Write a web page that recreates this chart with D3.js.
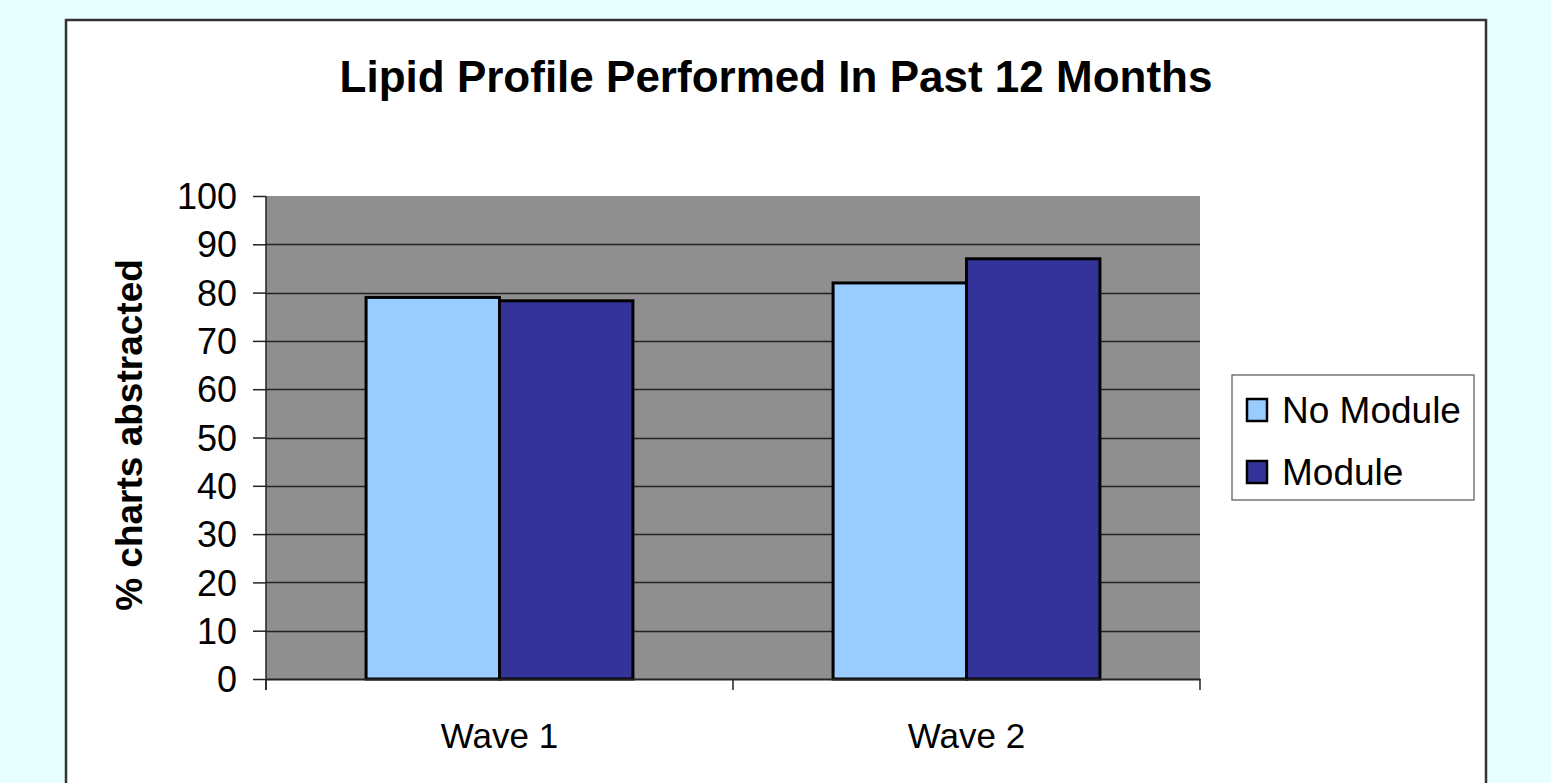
<!DOCTYPE html>
<html>
<head>
<meta charset="utf-8">
<script src="https://cdn.jsdelivr.net/npm/d3@7"></script>
<style>
  html, body { margin: 0; padding: 0; background: #e8ffff; }
  svg { display: block; font-family: Arial, "Liberation Sans", sans-serif; }
</style>
</head>
<body>
<div id="chart"></div>
<script>
// chart data
var categories = ["Wave 1", "Wave 2"];
var seriesNames = ["No Module", "Module"];
var noModule = [79, 82];
var module = [78.3, 87];
var yTicks = [0, 10, 20, 30, 40, 50, 60, 70, 80, 90, 100];
var colors = ["#99ccff", "#333399"];

var W = 1551, H = 783;
var plot = {left: 266, right: 1200, top: 196, bottom: 679};

var svg = d3.select("#chart").append("svg")
    .attr("width", W)
    .attr("height", H);

// white chart box (no bottom edge visible)
svg.append("rect")
    .attr("x", 66).attr("y", 20)
    .attr("width", 1420).attr("height", H)
    .attr("fill", "#fff")
    .attr("stroke", "#333")
    .attr("stroke-width", 2.5);

svg.append("text")
    .attr("x", 776).attr("y", 92)
    .attr("text-anchor", "middle")
    .attr("font-weight", "bold")
    .attr("font-size", 44)
    .text("Lipid Profile Performed In Past 12 Months");

var x0 = d3.scaleBand()
    .domain(categories)
    .range([plot.left, plot.right]);

// gap width 150% like the original
var x1 = d3.scaleBand()
    .domain(seriesNames)
    .range([x0.bandwidth() * 0.75 / 3.5, x0.bandwidth() - x0.bandwidth() * 0.75 / 3.5]);

var y = d3.scaleLinear()
    .domain([0, 100])
    .range([plot.bottom, plot.top]);

// plot background
svg.append("rect")
    .attr("x", plot.left).attr("y", plot.top)
    .attr("width", plot.right - plot.left)
    .attr("height", plot.bottom - plot.top)
    .attr("fill", "#8f8f8f");

// gridlines
svg.append("g")
    .selectAll("line")
    .data(yTicks.filter(function(d){ return d > 0 && d < 100; }))
  .enter().append("line")
    .attr("x1", plot.left).attr("x2", plot.right)
    .attr("y1", function(d){ return Math.round(y(d)) + 0.5; })
    .attr("y2", function(d){ return Math.round(y(d)) + 0.5; })
    .attr("stroke", "#222")
    .attr("stroke-width", 1.5);

// bars
var rows = categories.map(function(c, i){
    return {cat: c, vals: [noModule[i], module[i]]};
});

var groups = svg.selectAll("g.grp")
    .data(rows)
  .enter().append("g")
    .attr("class", "grp")
    .attr("transform", function(d){ return "translate(" + x0(d.cat) + ",0)"; });

groups.selectAll("rect")
    .data(function(d){ return d.vals.map(function(v, j){ return {name: seriesNames[j], v: v, j: j}; }); })
  .enter().append("rect")
    .attr("x", function(d){ return x1(d.name); })
    .attr("y", function(d){ return y(d.v); })
    .attr("width", x1.bandwidth())
    .attr("height", function(d){ return y(0) - y(d.v); })
    .attr("fill", function(d){ return colors[d.j]; })
    .attr("stroke", "#000")
    .attr("stroke-width", 3);

// y axis
var yAxis = svg.append("g")
    .attr("transform", "translate(" + plot.left + ",0)")
    .call(d3.axisLeft(y).tickValues(yTicks).tickSize(13).tickPadding(16));
yAxis.select(".domain").attr("stroke", "#222").attr("stroke-width", 1.5)
    .attr("d", "M0," + plot.top + "V" + (plot.bottom + 11));
yAxis.selectAll(".tick line").attr("stroke", "#222").attr("stroke-width", 1.5);
yAxis.selectAll("text")
    .attr("font-size", 36)
    .attr("font-family", "Arial, 'Liberation Sans', sans-serif")
    .attr("fill", "#000")
    .attr("dy", "0.35em");

// x axis
var xAxis = svg.append("g")
    .attr("transform", "translate(0," + plot.bottom + ")")
    .call(d3.axisBottom(x0).tickSize(0).tickPadding(44));
xAxis.select(".domain").attr("stroke", "#222").attr("stroke-width", 2);
xAxis.selectAll("text")
    .attr("font-size", 35)
    .attr("font-family", "Arial, 'Liberation Sans', sans-serif")
    .attr("fill", "#000");
// tick marks between categories
xAxis.selectAll("line.sep")
    .data([plot.left, x0("Wave 2"), plot.right])
  .enter().append("line")
    .attr("class", "sep")
    .attr("x1", function(d){ return d; }).attr("x2", function(d){ return d; })
    .attr("y1", 0).attr("y2", 11)
    .attr("stroke", "#222")
    .attr("stroke-width", 1.5);

// y label
svg.append("text")
    .attr("transform", "translate(142,435) rotate(-90)")
    .attr("text-anchor", "middle")
    .attr("font-weight", "bold")
    .attr("font-size", 37)
    .text("% charts abstracted");

// legend
var legend = svg.append("g");
legend.append("rect")
    .attr("x", 1232).attr("y", 375)
    .attr("width", 242).attr("height", 125)
    .attr("fill", "#fff")
    .attr("stroke", "#555")
    .attr("stroke-width", 1.2);

var items = legend.selectAll("g.item")
    .data(seriesNames)
  .enter().append("g")
    .attr("class", "item")
    .attr("transform", function(d, i){ return "translate(0," + (i * 62) + ")"; });
items.append("rect")
    .attr("x", 1247).attr("y", 399)
    .attr("width", 20).attr("height", 22)
    .attr("fill", function(d, i){ return colors[i]; })
    .attr("stroke", "#000")
    .attr("stroke-width", 2.5);
items.append("text")
    .attr("x", 1282).attr("y", 423)
    .attr("font-size", 37)
    .text(function(d){ return d; });
</script>
</body>
</html>
